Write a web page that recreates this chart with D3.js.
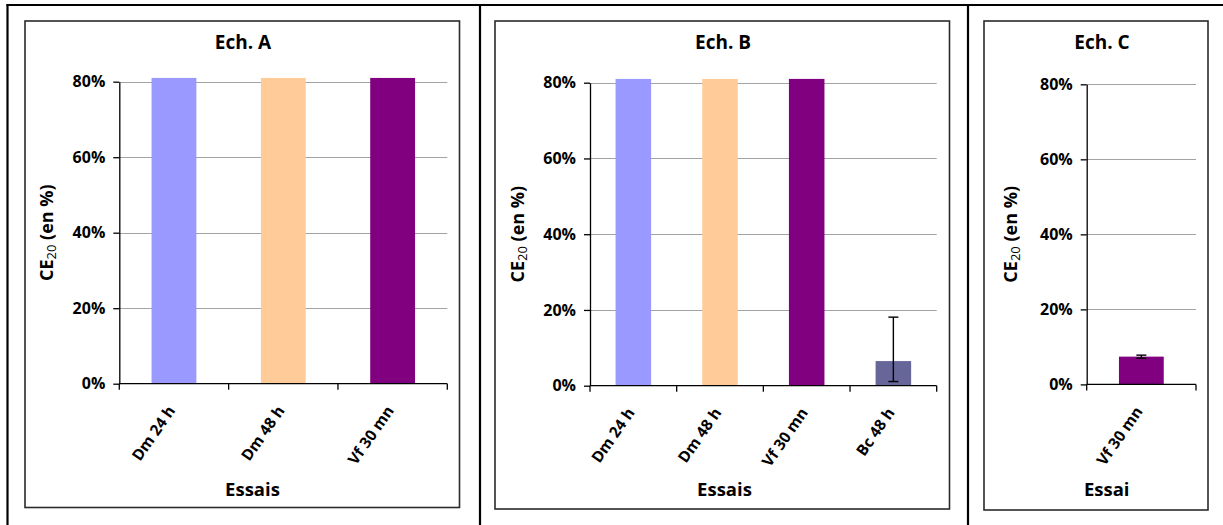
<!DOCTYPE html>
<html>
<head>
<meta charset="utf-8">
<script src="https://cdn.jsdelivr.net/npm/d3@7"></script>
<style>
  html, body { margin: 0; padding: 0; background: #fff; }
  svg { display: block; font-family: "Open Sans", Lato, sans-serif; }
</style>
</head>
<body>
<svg id="chart" width="1223" height="525"></svg>
<script>
// ---- data ----
const yTickValues = [0, 0.2, 0.4, 0.6, 0.8];

const titleA = "Ech. A";
const catsA = ["Dm 24 h", "Dm 48 h", "Vf 30 mn"];
const valsA = [0.81, 0.81, 0.81];
const errLoA = [null, null, null];
const errHiA = [null, null, null];

const titleB = "Ech. B";
const catsB = ["Dm 24 h", "Dm 48 h", "Vf 30 mn", "Bc 48 h"];
const valsB = [0.81, 0.81, 0.81, 0.065];
const errLoB = [null, null, null, 0.011];
const errHiB = [null, null, null, 0.181];

const titleC = "Ech. C";
const catsC = ["Vf 30 mn"];
const valsC = [0.074];
const errLoC = [0.070];
const errHiC = [0.078];

const xTitles = ["Essais", "Essais", "Essai"];

const catColors = {
  "Dm 24 h": "#9999FF",
  "Dm 48 h": "#FFCC99",
  "Vf 30 mn": "#800080",
  "Bc 48 h": "#666699"
};

// ---- layout ----
const FONT = "'Open Sans', Lato, sans-serif";
const panels = [
  { title: titleA, cats: catsA, vals: valsA, lo: errLoA, hi: errHiA, xt: xTitles[0],
    frame: [25, 21, 459.5, 507.5], plot: [119.3, 447.3], yr: [383.7, 81.7],
    titleX: 243, xTitleX: 252.5, yTitleX: 47 },
  { title: titleB, cats: catsB, vals: valsB, lo: errLoB, hi: errHiB, xt: xTitles[1],
    frame: [495, 21, 949.5, 509], plot: [590, 936.7], yr: [385.7, 82.7],
    titleX: 723, xTitleX: 724.5, yTitleX: 518 },
  { title: titleC, cats: catsC, vals: valsC, lo: errLoC, hi: errHiC, xt: xTitles[2],
    frame: [984, 21, 1208, 510], plot: [1086.7, 1196], yr: [384.4, 84.3],
    titleX: 1102, xTitleX: 1106.7, yTitleX: 1011 }
];

const svg = d3.select("#chart");

// outer table lines
const tbl = svg.append("g").attr("stroke", "#000").attr("stroke-width", 2.2);
tbl.append("line").attr("x1", 6.5).attr("x2", 1223).attr("y1", 5).attr("y2", 5);
[7.5, 480, 968].forEach(x => {
  tbl.append("line").attr("x1", x).attr("x2", x).attr("y1", 4).attr("y2", 525);
});

panels.forEach(p => {
  const g = svg.append("g");
  const [fx0, fy0, fx1, fy1] = p.frame;

  // chart frame
  g.append("rect")
    .attr("x", fx0).attr("y", fy0)
    .attr("width", fx1 - fx0).attr("height", fy1 - fy0)
    .attr("fill", "#fff").attr("stroke", "#2a2a2a").attr("stroke-width", 1.6);

  const y = d3.scaleLinear().domain([0, 0.8]).range(p.yr);
  const x = d3.scaleBand().domain(p.cats).range(p.plot)
    .paddingInner(0.59).paddingOuter(0.295);

  // gridlines
  g.append("g").selectAll("line")
    .data(yTickValues.filter(d => d > 0))
    .join("line")
    .attr("x1", p.plot[0]).attr("x2", p.plot[1])
    .attr("y1", d => Math.round(y(d)) + 0.5).attr("y2", d => Math.round(y(d)) + 0.5)
    .attr("stroke", "#a3a3a3").attr("stroke-width", 1.2);

  // bars
  g.append("g").selectAll("rect")
    .data(p.cats)
    .join("rect")
    .attr("x", d => x(d))
    .attr("width", x.bandwidth())
    .attr("y", (d, i) => y(p.vals[i]))
    .attr("height", (d, i) => y(0) - y(p.vals[i]))
    .attr("fill", d => catColors[d]);

  // error bars
  const eb = g.append("g").attr("stroke", "#000").attr("stroke-width", 1.4);
  p.cats.forEach((c, i) => {
    if (p.lo[i] == null) return;
    const cx = x(c) + x.bandwidth() / 2;
    eb.append("line").attr("x1", cx).attr("x2", cx).attr("y1", y(p.hi[i])).attr("y2", y(p.lo[i]));
    [p.hi[i], p.lo[i]].forEach(v => {
      eb.append("line").attr("x1", cx - 5).attr("x2", cx + 5).attr("y1", y(v)).attr("y2", y(v));
    });
  });

  // y axis
  const ya = g.append("g")
    .attr("transform", `translate(${p.plot[0]},0)`)
    .call(d3.axisLeft(y).tickValues(yTickValues).tickFormat(d3.format(".0%")).tickSize(6).tickSizeOuter(0).tickPadding(8));
  ya.select(".domain").attr("stroke", "#000").attr("stroke-width", 1.3);
  ya.selectAll(".tick line").attr("stroke", "#000").attr("stroke-width", 1.3);
  ya.selectAll(".tick text")
    .attr("font-family", FONT)
    .attr("font-size", 16).attr("font-weight", "bold").attr("fill", "#000");

  // x axis (labels at band centres)
  const xa = g.append("g")
    .attr("transform", `translate(0,${y(0)})`)
    .call(d3.axisBottom(x).tickSize(0).tickSizeOuter(0));
  xa.select(".domain").remove();
  xa.selectAll(".tick text")
    .attr("font-family", FONT)
    .attr("font-size", 15.5).attr("font-weight", "bold").attr("fill", "#000")
    .attr("text-anchor", "end")
    .attr("dy", null)
    .attr("y", 0)
    .attr("transform", "translate(2,27) rotate(-55)");

  // x axis line and boundary ticks
  const ax = g.append("g").attr("stroke", "#000").attr("stroke-width", 1.3);
  ax.append("line").attr("x1", p.plot[0]).attr("x2", p.plot[1]).attr("y1", y(0)).attr("y2", y(0));
  d3.range(p.cats.length + 1).forEach(k => {
    const bx = p.plot[0] + k * x.step();
    ax.append("line").attr("x1", bx).attr("x2", bx).attr("y1", y(0)).attr("y2", y(0) + 6);
  });

  // title
  g.append("text")
    .attr("x", p.titleX).attr("y", 49)
    .attr("text-anchor", "middle")
    .attr("font-family", FONT)
    .attr("font-size", 19).attr("font-weight", "bold")
    .text(p.title);

  // x axis title
  g.append("text")
    .attr("x", p.xTitleX).attr("y", 496)
    .attr("text-anchor", "middle")
    .attr("font-family", FONT)
    .attr("font-size", 18.5).attr("font-weight", "bold")
    .text(p.xt);

  // y axis title with subscript
  const midY = (p.yr[0] + p.yr[1]) / 2;
  const yt = g.append("text")
    .attr("transform", `translate(${p.yTitleX + 6},${midY}) rotate(-90)`)
    .attr("text-anchor", "middle")
    .attr("font-family", FONT)
    .attr("font-size", 18).attr("font-weight", "bold");
  yt.append("tspan").text("CE");
  yt.append("tspan").attr("font-size", 13).attr("font-weight", "normal").attr("dy", 3).text("20");
  yt.append("tspan").attr("dy", -3).text(" (en %)");
});
</script>
</body>
</html>
